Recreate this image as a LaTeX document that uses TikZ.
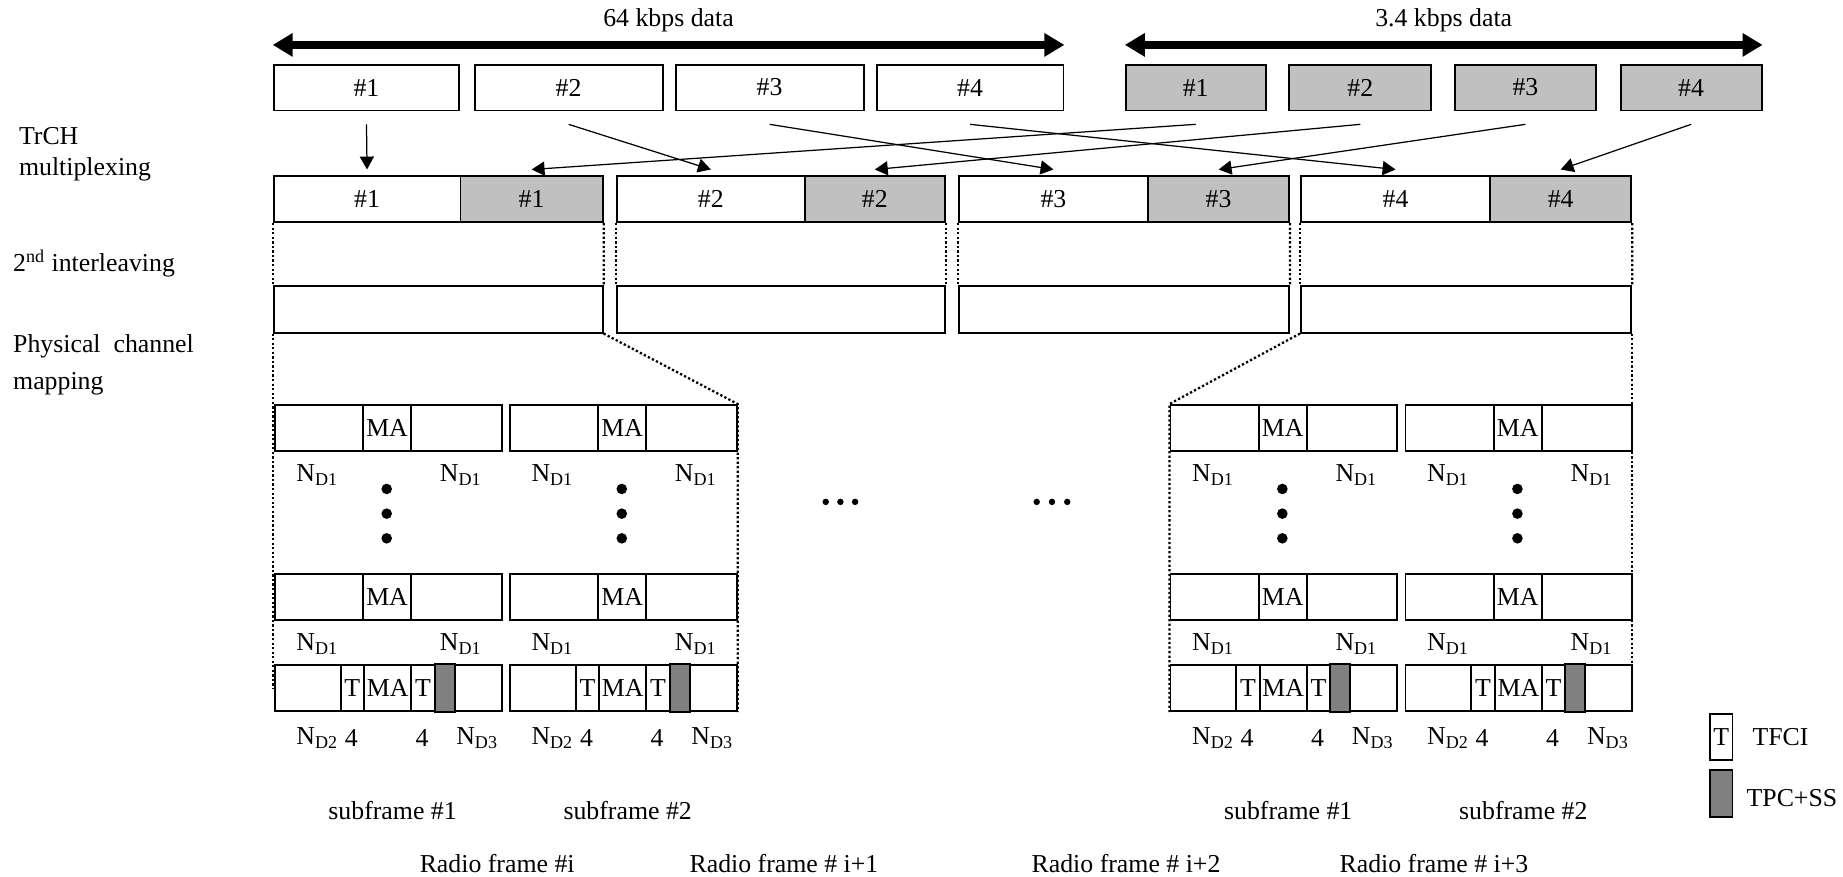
\documentclass[tikz,border=0pt]{standalone}
\usepackage{fontspec}
\setmainfont{Liberation Serif}
\usetikzlibrary{arrows.meta, positioning}
\definecolor{lGray}{HTML}{C0C0C0}
\definecolor{dGray}{HTML}{808080}
\newcommand{\pxu}{0.02cm}

\begin{document}
\begin{tikzpicture}[x=0.02cm, y=-0.02cm,
    every node/.style={font=\fontsize{12.5}{15}\selectfont},
    blk/.style={draw, line width=0.9pt, inner sep=0pt, minimum height=39*\pxu, anchor=west},
    arr/.style={semithick, -{Triangle[length=0.22cm, width=0.24cm]}},
    bigarr/.style={line width=3.6pt, {Triangle[length=0.34cm, width=0.38cm]}-{Triangle[length=0.34cm, width=0.38cm]}},
    dotl/.style={line width=1.1pt, dash pattern=on 1.1pt off 1.1pt}]
  \useasboundingbox (0,0) rectangle (1568,746);

  % row labels
  \node[anchor=west, align=left] (lmux) at (10,131) {TrCH\\multiplexing};
  \node[anchor=west] (lil) at (5,224) {2\textsuperscript{nd} interleaving};
  \node[anchor=west, align=left] (lmap) at (5,310.5) {Physical\enspace channel\\[3pt]mapping};

  % transport blocks
  \foreach \n/\x/\w in {1/232/158, 2/403/160, 3/574/160, 4/745/159}
    \node[blk, minimum width=\w*\pxu] (hi\n) at (\x,74.5) {\#\n};
  \foreach \n/\x/\w in {1/957/119, 2/1096/121, 3/1237/120, 4/1378/120}
    \node[blk, fill=lGray, minimum width=\w*\pxu] (lo\n) at (\x,74.5) {\#\n};
  \draw[bigarr] ([yshift=0.32cm]hi1.north west) -- ([yshift=0.32cm]hi4.north east)
    node[midway, above=1pt] (t64) {64 kbps data};
  \draw[bigarr] ([yshift=0.32cm]lo1.north west) -- ([yshift=0.32cm]lo4.north east)
    node[midway, above=1pt] (t34) {3.4 kbps data};

  % multiplexing and 2nd interleaving
  \foreach \n/\x/\w/\wl in {1/232/159/121, 2/524/160/119, 3/815/161/120, 4/1106/161/120} {
    \node[blk, minimum width=\w*\pxu] (mh\n) at (\x,169.5) {\#\n};
    \node[blk, fill=lGray, minimum width=\wl*\pxu] (ml\n) at (\x+\w,169.5) {\#\n};
    \node[blk, minimum width=(\w+\wl)*\pxu, minimum height=40*\pxu] (il\n) at (\x,263) {};
    \draw[dotl] (mh\n.south west) -- (il\n.north west);
    \draw[dotl] (ml\n.south east) -- (il\n.north east);
    \draw[arr] ([yshift=-0.22cm]hi\n.south) -- ([yshift=0.1cm]mh\n.north);
    \draw[arr] ([yshift=-0.22cm]lo\n.south) -- ([yshift=0.1cm]ml\n.north);
  }

  % subframes
  \foreach \sf/\ox/\sfn in {1/233/1, 2/433/2, 3/995/1, 4/1195/2} {
    \foreach \rw/\y in {a/364, b/508} {
      \node[blk, minimum width=75*\pxu] (\rw\sf l) at (\ox,\y) {};
      \node[blk, minimum width=41*\pxu] (\rw\sf m) at (\ox+75,\y) {MA};
      \node[blk, minimum width=77*\pxu] (\rw\sf r) at (\ox+116,\y) {};
      \node (n\rw\sf l) at (\ox+37,\y+40) {N\textsubscript{D1}};
      \node (n\rw\sf r) at (\ox+159,\y+40) {N\textsubscript{D1}};
    }
    \foreach \dy in {416,437,458}
      \fill (\ox+96,\dy) circle[radius=0.09cm];
    \node[blk, minimum width=56*\pxu] (c\sf l) at (\ox,585.5) {};
    \node[blk, minimum width=20*\pxu] (c\sf t) at (\ox+56,585.5) {T};
    \node[blk, minimum width=40*\pxu] (c\sf m) at (\ox+76,585.5) {MA};
    \node[blk, minimum width=20*\pxu] (c\sf u) at (\ox+116,585.5) {T};
    \node[blk, minimum width=40*\pxu] (c\sf r) at (\ox+153,585.5) {};
    \node[blk, fill=dGray, minimum width=17*\pxu, minimum height=41*\pxu] (c\sf p) at (\ox+136,585.5) {};
    \node (nc\sf a) at (\ox+37,628) {N\textsubscript{D2}};
    \node (nc\sf b) at (\ox+66,628) {4};
    \node (nc\sf c) at (\ox+126,628) {4};
    \node (nc\sf d) at (\ox+173,628) {N\textsubscript{D3}};
    \node (sf\sf) at (\ox+101,690) {subframe \#\sfn};
  }

  % physical channel mapping
  \coordinate (eL) at (il1.south west |- c1l.center);
  \coordinate (eR) at (il4.south east |- c4r.center);
  \coordinate (e2) at (a2r.north east |- c2r.south);
  \coordinate (e3) at (a3l.north west |- c3l.south);
  \draw[dotl] (il1.south west) -- (eL);
  \draw[dotl] (il1.south east) -- (a2r.north east) -- (e2);
  \draw[dotl] (il4.south west) -- (a3l.north west) -- (e3);
  \draw[dotl] (il4.south east) -- (eR);
  \foreach \x in {702.5,715,727.5,882,895,908}
    \fill (\x,427) circle[radius=0.055cm];

  % radio frames
  \node (rf1) at (423,735) {Radio frame \#i};
  \node (rf2) at (667,735) {Radio frame \# i+1};
  \node (rf3) at (958,735) {Radio frame \# i+2};
  \node (rf4) at (1220,735) {Radio frame \# i+3};

  % legend
  \node[blk, anchor=center, minimum width=19*\pxu] (legT) at (1464.5,627) {T};
  \node[blk, anchor=center, fill=dGray, minimum width=19*\pxu, minimum height=40*\pxu] (legP) at (1464.5,675) {};
  \node[right=0.2cm of legT] (legTt) {TFCI};
  \node[right=0.1cm of legP, yshift=-0.08cm] (legPt) {TPC+SS};
\end{tikzpicture}
\end{document}
